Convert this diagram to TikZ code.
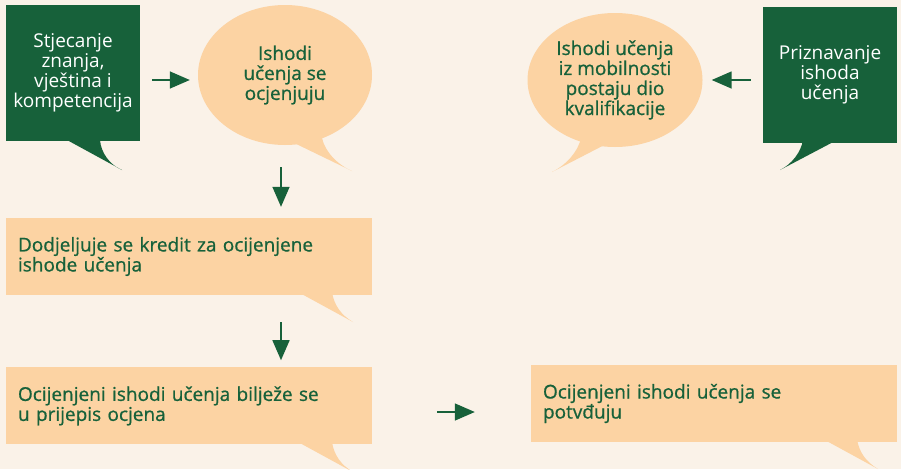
\documentclass[tikz,border=0pt]{standalone}
\usepackage{fontspec}
\setmainfont{Open Sans}
\newfontfamily\semifont[FakeBold=0.8]{Open Sans}
\usetikzlibrary{arrows.meta,shapes.geometric,positioning}

\definecolor{darkgreen}{HTML}{17613A}
\definecolor{peach}{HTML}{FCD3A3}
\definecolor{cream}{HTML}{FAF2E8}

\tikzset{
	greenbox/.style={rectangle, fill=darkgreen, text=white, minimum width=134pt, minimum height=136pt,
		inner sep=0pt, align=center, font=\fontsize{19}{20}\selectfont},
	bubble/.style={ellipse, fill=peach, text=darkgreen, inner sep=0pt, align=center,
		font=\semifont\fontsize{19}{20}\selectfont},
	wide/.style={rectangle, fill=peach, text=darkgreen, text width=342pt, inner xsep=12pt,
		minimum height=77pt, align=left, font=\semifont\fontsize{19}{20}\selectfont},
	flow/.style={draw=darkgreen, line width=1.5pt, -{Triangle[length=20pt,width=17pt]}}
}

\begin{document}
\begin{tikzpicture}[x=1pt,y=-1pt]
	\useasboundingbox (0,0) rectangle (901,469);
	\clip (0,0) rectangle (901,469);
	\fill[cream] (0,0) rectangle (901,469);

	% tails
	\fill[darkgreen] (67,140) -- (122,170) .. controls (110,165) and (101,153) .. (100,140) -- cycle;
	\fill[peach] (288,140) -- (352,171) .. controls (338,165) and (325,152) .. (322,138) -- cycle;
	\fill[peach] (614,140) -- (552,172) .. controls (566,165) and (578,152) .. (581,138) -- cycle;
	\fill[darkgreen] (837,140) -- (780,170) .. controls (792,164) and (801,152) .. (803,140) -- cycle;
	\fill[peach] (298,292) -- (353,322) .. controls (341,315) and (334,305) .. (332,292) -- cycle;
	\fill[peach] (298,442) -- (353,472) .. controls (341,465) and (334,455) .. (332,442) -- cycle;
	\fill[peach] (823,439) -- (878,469) .. controls (866,462) and (859,452) .. (857,439) -- cycle;

	\node[greenbox] (stj) at (73,73) {Stjecanje\\znanja,\\vještina i\\kompetencija};
	\node[bubble, minimum width=174pt, minimum height=140pt] (ocj) at (285,75) {Ishodi\\učenja se\\ocjenjuju};
	\node[bubble, minimum width=175pt, minimum height=134pt] (mob) at (615,80) {Ishodi učenja\\iz mobilnosti\\postaju dio\\kvalifikacije};
	\node[greenbox] (prz) at (830,75) {Priznavanje\\ishoda\\učenja};
	\node[wide] (krd) at (189,256.5) {Dodjeljuje se kredit za ocijenjene\\ishode učenja};
	\node[wide] (ocr) [below=72pt of krd] {Ocijenjeni ishodi učenja bilježe se\\u prijepis ocjena};
	\node[wide] (pot) at (714,403.5) {Ocijenjeni ishodi učenja se\\potvđuju};

	\coordinate (col) at (281,0);
	\coordinate (row) at (0,412);

	\draw[flow, shorten <=12pt, shorten >=8pt] ([yshift=-7pt]stj.east) -- ([yshift=-7pt]stj.east -| ocj.west);
	\draw[flow, shorten <=12pt, shorten >=9pt] ([yshift=-5pt]prz.west) -- ([yshift=-5pt]prz.west -| mob.east);
	\draw[flow, shorten <=22pt, shorten >=11pt] (col |- ocj.south) -- (col |- krd.north);
	\draw[flow, shorten <=27pt, shorten >=7pt] (col |- krd.south) -- (col |- ocr.north);
	\draw[flow, shorten <=65pt, shorten >=56pt] (ocr.east |- row) -- (pot.west |- row);
\end{tikzpicture}
\end{document}
